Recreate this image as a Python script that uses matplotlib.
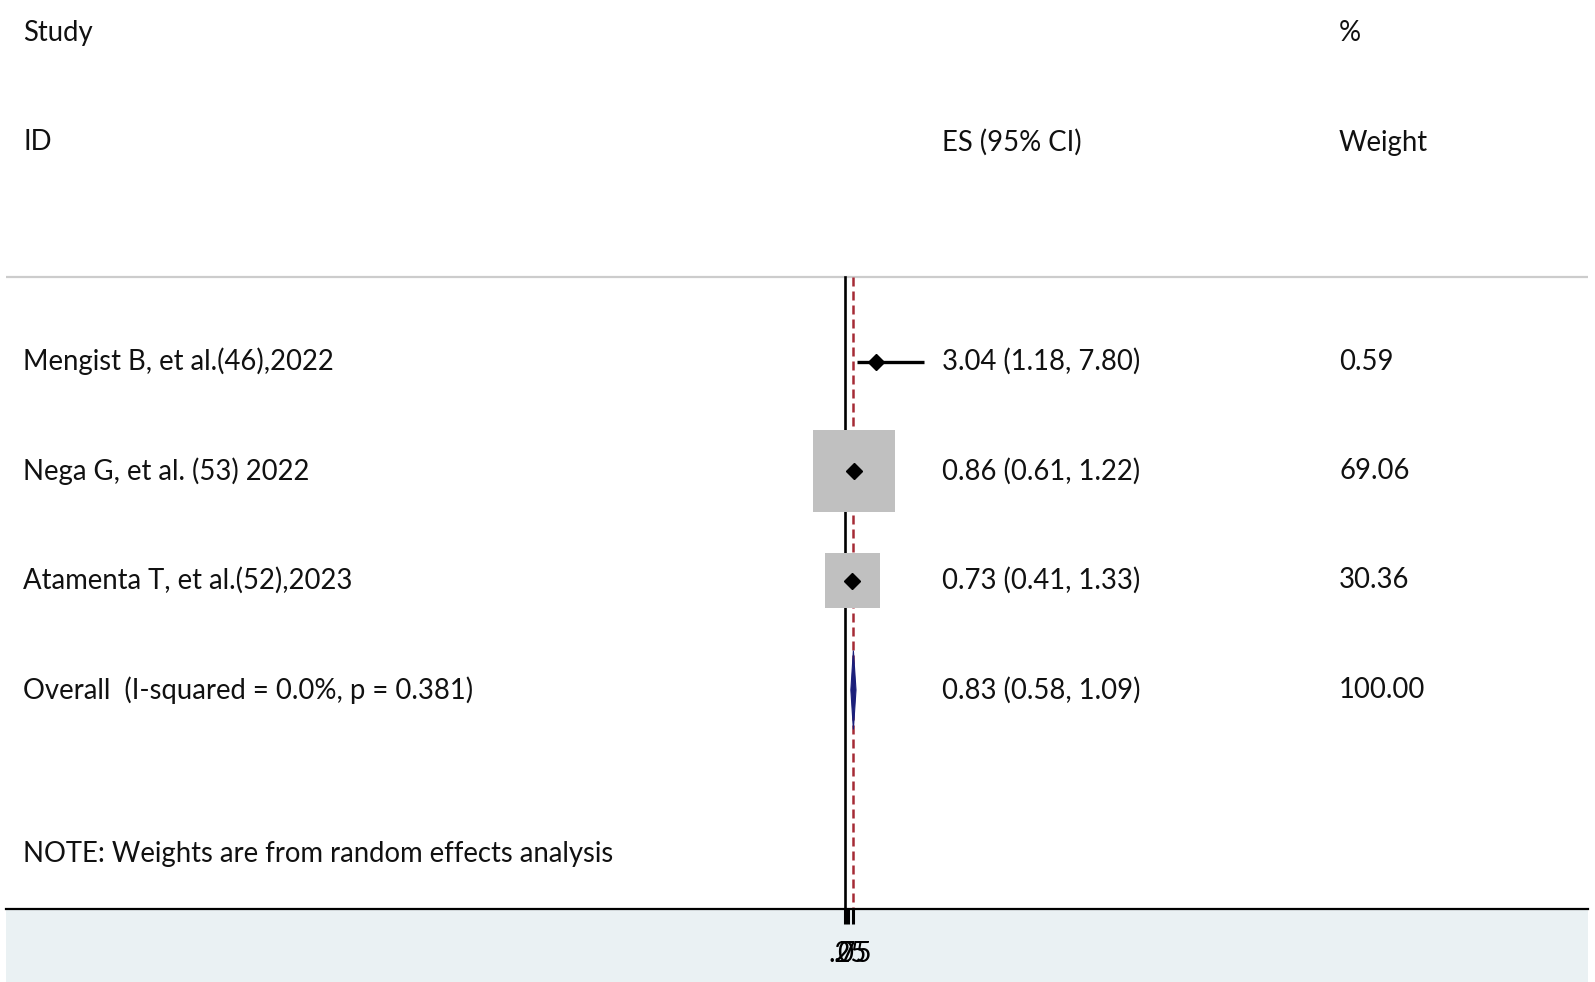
import matplotlib
matplotlib.use("Agg")
import matplotlib.pyplot as plt
from matplotlib.patches import Rectangle, Polygon
import numpy as np

# ---- data ----
studies = ["Mengist B, et al.(46),2022", "Nega G, et al. (53) 2022", "Atamenta T, et al.(52),2023"]
es = [3.04, 0.86, 0.73]
lo = [1.18, 0.61, 0.41]
hi = [7.80, 1.22, 1.33]
weights = [0.59, 69.06, 30.36]
overall_label = "Overall  (I-squared = 0.0%, p = 0.381)"
overall_es, overall_lo, overall_hi = 0.83, 0.58, 1.09
overall_weight = 100.00
note = "NOTE: Weights are from random effects analysis"
xticks = [0, 0.25, 0.75]
xticklabels = ["0", ".25", ".75"]

# ---- layout ----
W, H = 1595, 982
fig = plt.figure(figsize=(W / 100, H / 100), dpi=100, facecolor="white")
FONT = "Lato"
FS = 19.8

x_left_px, x_right_px = 6, 1588
axis_px = 909
# light blue band under the plot
fig.patches.append(Rectangle((x_left_px / W, 0), (x_right_px - x_left_px) / W, (H - axis_px) / H,
                             transform=fig.transFigure, facecolor="#eaf1f3", edgecolor="none", zorder=0))
ax = fig.add_axes([x_left_px / W, (H - axis_px) / H, (x_right_px - x_left_px) / W, axis_px / H])
ax.set_zorder(5)

px_per_unit = 10.1
zero_px = 845
xmin = (x_left_px - zero_px) / px_per_unit
xmax = (x_right_px - zero_px) / px_per_unit
row_px = 109.5
top_row_px = 33
ymin = (axis_px - top_row_px) / row_px
ymax = -top_row_px / row_px
ax.set_xlim(xmin, xmax)
ax.set_ylim(ymin, ymax)

for s in ["top", "left", "right"]:
    ax.spines[s].set_visible(False)
ax.spines["bottom"].set_linewidth(1.6)
ax.set_yticks([])
ax.set_xticks(xticks)
ax.set_xticklabels(xticklabels, fontfamily=FONT, fontsize=FS)
ax.tick_params(axis="x", length=11, width=2.2, pad=12)
ax.set_facecolor("white")

col_id = (23 - zero_px) / px_per_unit
col_es = (942 - zero_px) / px_per_unit
col_w = (1339 - zero_px) / px_per_unit

txt = dict(fontfamily=FONT, fontsize=FS, va="center", color="#111111")
ax.text(col_id, 0, "Study", ha="left", **txt)
ax.text(col_w, 0, "%", ha="left", **txt)
ax.text(col_id, 1, "ID", ha="left", **txt)
ax.text(col_es, 1, "ES (95% CI)", ha="left", **txt)
ax.text(col_w, 1, "Weight", ha="left", **txt)

line_y = (277 - top_row_px) / row_px
ax.axhline(line_y, color="#cccccc", lw=1.6, zorder=1)

# null line and overall line
ax.plot([0, 0], [line_y, ymin], color="black", lw=1.9, zorder=2)
ax.plot([overall_es, overall_es], [line_y, ymin], color="#a52a35", lw=1.8,
        linestyle=(0, (3.6, 2.0)), zorder=2)

k = 9.87  # px per sqrt(weight)
for i, (name, e, l, h, w) in enumerate(zip(studies, es, lo, hi, weights)):
    y = 3 + i
    side = k * np.sqrt(w)
    ax.add_patch(Rectangle((e - side / 2 / px_per_unit, y - side / 2 / row_px),
                           side / px_per_unit, side / row_px,
                           facecolor="#c0c0c0", edgecolor="none", zorder=3))
    ax.plot([l, h], [y, y], color="black", lw=2.4, zorder=4, solid_capstyle="butt")
    ax.plot([e], [y], marker="D", color="black", markersize=8.5, zorder=5)
    ax.text(col_id, y, name, ha="left", **txt)
    ax.text(col_es, y, f"{e:.2f} ({l:.2f}, {h:.2f})", ha="left", **txt)
    ax.text(col_w, y, f"{w:.2f}", ha="left", **txt)

y = 6
hh = 0.36
ax.add_patch(Polygon([[overall_lo, y], [overall_es, y - hh], [overall_hi, y], [overall_es, y + hh]],
                     closed=True, facecolor="#1b1f7a", edgecolor="#1b1f7a", lw=0.8, zorder=6))
ax.text(col_id, y, overall_label, ha="left", **txt)
ax.text(col_es, y, f"{overall_es:.2f} ({overall_lo:.2f}, {overall_hi:.2f})", ha="left", **txt)
ax.text(col_w, y, f"{overall_weight:.2f}", ha="left", **txt)

ax.text(col_id, 7.5, note, ha="left", **txt)

fig.savefig("out.png", dpi=100, facecolor="white")
